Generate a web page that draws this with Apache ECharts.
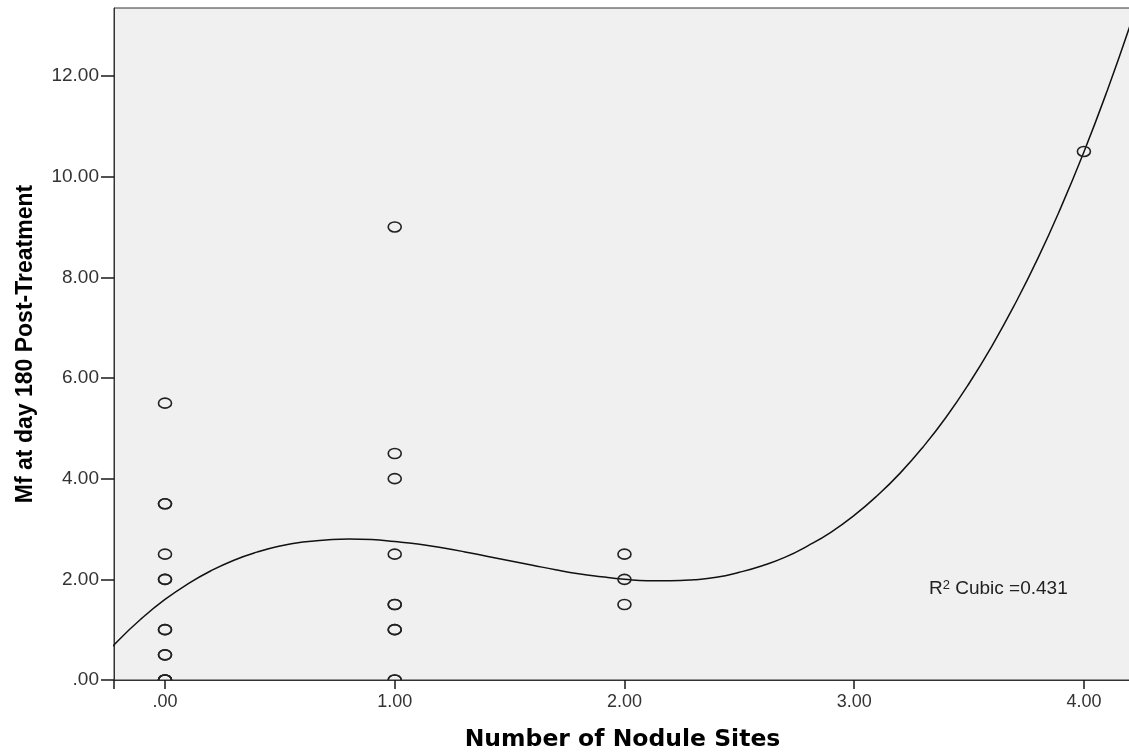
<!DOCTYPE html>
<html>
<head>
<meta charset="utf-8">
<script src="https://cdn.jsdelivr.net/npm/echarts@6/dist/echarts.min.js"></script>
<style>
html,body{margin:0;padding:0;background:#fff;}
#chart{width:1129px;height:753px;}
</style>
</head>
<body>
<div id="chart"></div>
<script>
// Tick values
const xTicks = [0, 1, 2, 3, 4];
const yTicks = [0, 2, 4, 6, 8, 10, 12];

// Observed points: number of nodule sites vs Mf at day 180
const noduleSites = [0, 0, 0, 0, 0, 0, 0, 0, 0, 0, 0, 0, 0, 0,
                     1, 1, 1, 1, 1, 1, 1, 1, 1, 1,
                     2, 2, 2,
                     4];
const mfDay180    = [5.5, 3.5, 3.5, 2.5, 2.0, 2.0, 1.0, 1.0, 0.5, 0.5, 0, 0, 0, 0,
                     9.0, 4.5, 4.0, 2.5, 1.5, 1.5, 1.0, 1.0, 0, 0,
                     2.5, 2.0, 1.5,
                     10.5];

// Cubic fit line
const fitX = [-0.3, -0.2, -0.1, 0, 0.1, 0.2, 0.3, 0.4, 0.5, 0.6, 0.7, 0.8, 0.9, 1.0,
              1.1, 1.2, 1.3, 1.4, 1.5, 1.6, 1.7, 1.8, 1.9, 2.0, 2.1, 2.2, 2.3, 2.4,
              2.5, 2.6, 2.7, 2.8, 2.9, 3.0, 3.1, 3.2, 3.3, 3.4, 3.5, 3.6, 3.7, 3.8,
              3.9, 4.0, 4.1, 4.2, 4.3];
const fitY = [0.30, 0.80, 1.23, 1.60, 1.91, 2.17, 2.38, 2.54, 2.66, 2.74, 2.78, 2.80, 2.79, 2.75,
              2.70, 2.63, 2.55, 2.46, 2.37, 2.28, 2.19, 2.11, 2.05, 2.00, 1.97, 1.97, 1.99, 2.04,
              2.14, 2.27, 2.44, 2.67, 2.94, 3.27, 3.66, 4.11, 4.63, 5.22, 5.89, 6.64, 7.47, 8.38,
              9.39, 10.49, 11.69, 12.99, 14.40];

const r2Label = 'R';
const r2Sup = '2';
const r2Text = ' Cubic =0.431';

const fmt = v => (v === 0 ? '.00' : v.toFixed(2));

const chart = echarts.init(document.getElementById('chart'), null, {renderer: 'canvas'});
const axisColor = '#333';

chart.setOption({
  animation: false,
  backgroundColor: '#ffffff',
  grid: {
    left: 114, top: 8, width: 1017, height: 672,
    outerBoundsMode: 'none', containLabel: false,
    show: true, backgroundColor: '#f0f0f0', borderColor: axisColor, borderWidth: 1
  },
  xAxis: {
    type: 'value', min: -0.222, max: 4.205,
    splitLine: {show: false},
    axisLine: {show: true, onZero: false, lineStyle: {color: axisColor, width: 1}},
    axisTick: {show: true, length: 9, lineStyle: {color: '#1a1a1a', width: 1.5}},
    axisLabel: {customValues: xTicks, formatter: fmt, margin: 13, fontSize: 18,
                color: '#333', fontFamily: 'Liberation Sans'},
    name: 'Number of Nodule Sites', nameLocation: 'middle', nameGap: 48,
    nameTextStyle: {fontFamily: 'DejaVu Sans', fontWeight: 'bold', fontSize: 23.5, color: '#000'}
  },
  yAxis: {
    type: 'value', min: 0, max: 13.35,
    splitLine: {show: false},
    axisLine: {show: true, onZero: false, lineStyle: {color: axisColor, width: 1}},
    axisTick: {show: true, customValues: yTicks, length: 13, lineStyle: {color: '#1a1a1a', width: 1.5}},
    axisLabel: {customValues: yTicks, formatter: fmt, margin: 15, fontSize: 19,
                color: '#333', fontFamily: 'Liberation Sans'},
    name: 'Mf at day 180 Post-Treatment', nameLocation: 'middle', nameGap: 77,
    nameTextStyle: {fontFamily: 'Liberation Sans', fontWeight: 'bold', fontSize: 23, color: '#000'}
  },
  series: [
    {
      type: 'line',
      data: fitX.map((x, i) => [x, fitY[i]]),
      smooth: true,
      showSymbol: false,
      clip: true,
      lineStyle: {color: '#111', width: 1.5},
      z: 3,
      silent: true
    },
    {
      type: 'custom',
      data: noduleSites.map((x, i) => [x, mfDay180[i]]),
      encode: {x: 0, y: 1},
      clip: true,
      z: 4,
      silent: true,
      renderItem: function (params, api) {
        const p = api.coord([api.value(0), api.value(1)]);
        return {
          type: 'ellipse',
          shape: {cx: p[0], cy: p[1], rx: 6.5, ry: 5},
          style: {fill: 'none', stroke: '#222', lineWidth: 1.6}
        };
      }
    }
  ],
  graphic: [
    {
      type: 'text', left: 929, top: 579, z: 6, silent: true,
      style: {
        text: '{a|' + r2Label + '}{s|' + r2Sup + '}{a|' + r2Text + '}',
        rich: {
          a: {fontSize: 19, fontFamily: 'Liberation Sans', fill: '#222', verticalAlign: 'bottom'},
          s: {fontSize: 13, fontFamily: 'Liberation Sans', fill: '#222', verticalAlign: 'top'}
        }
      }
    }
  ]
});
</script>
</body>
</html>
